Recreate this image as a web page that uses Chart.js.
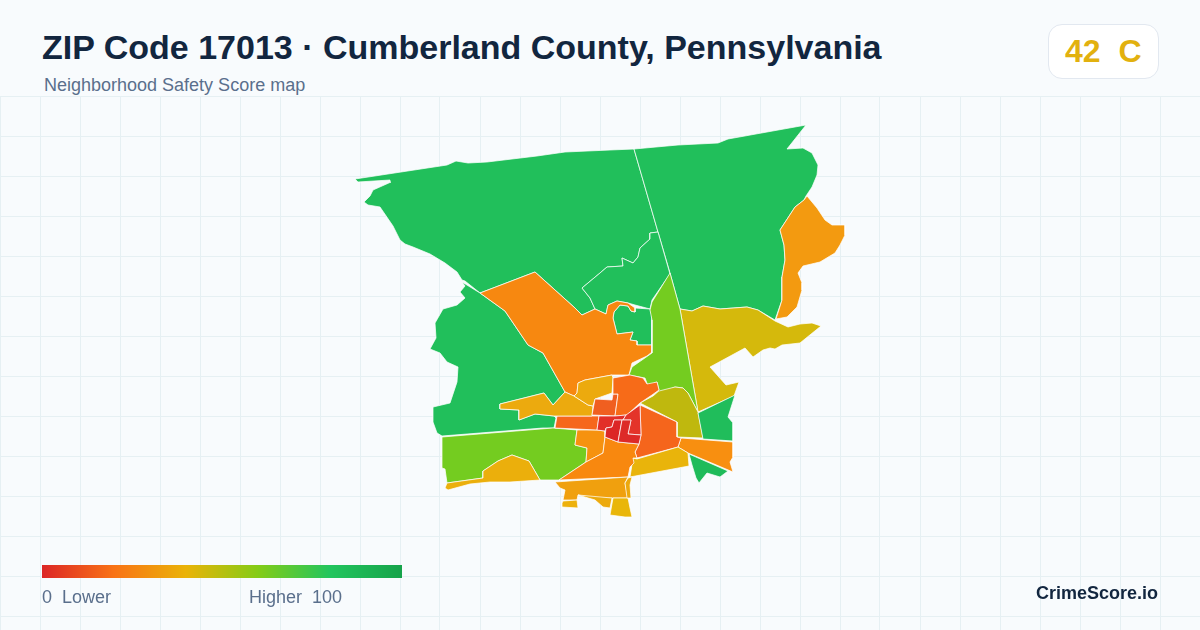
<!DOCTYPE html>
<html><head><meta charset="utf-8">
<script src="https://cdn.jsdelivr.net/npm/chart.js@4"></script>
<style>
html,body{margin:0;padding:0;width:1200px;height:630px;overflow:hidden;background:#f8fbfd;font-family:"Liberation Sans",Arial,sans-serif}
#wrap{position:absolute;left:0;top:96px;width:1200px;height:534px}
.t{position:absolute;white-space:pre;line-height:1}
#title{left:42px;top:30px;font-size:34px;font-weight:700;color:#12263f}
#sub{left:44px;top:76px;font-size:18px;color:#5a6f8c}
#badge{position:absolute;left:1048px;top:24px;width:109px;height:53px;background:#fff;border:1px solid #e2e8f0;border-radius:14px}
#score{left:1065px;top:35px;font-size:32px;font-weight:700;color:#e2b10f}
#bar{position:absolute;left:42px;top:565px;width:360px;height:13px;background:linear-gradient(90deg,#dc2626 0%,#f97316 20%,#eab308 40%,#84cc16 60%,#22c55e 80%,#16a34a 100%)}
#lo{left:42px;top:588px;font-size:18px;color:#5a6f8c}
#hi{left:249px;top:588px;font-size:18px;color:#5a6f8c}
#brand{right:42px;top:584px;font-size:18px;font-weight:700;color:#12263f}
</style></head><body>
<div id="wrap"><canvas id="c" width="1200" height="534"></canvas></div>
<div class="t" id="title">ZIP Code 17013 · Cumberland County, Pennsylvania</div>
<div class="t" id="sub">Neighborhood Safety Score map</div>
<div id="badge"></div><div class="t" id="score">42  C</div>
<div id="bar"></div>
<div class="t" id="lo">0  Lower</div><div class="t" id="hi">Higher  100</div>
<div class="t" id="brand">CrimeScore.io</div>
<script>
const gridX=[0,40,80,120,160,200,240,280,320,360,400,440,480,520,560,600,640,680,720,760,800,840,880,920,960,1000,1040,1080,1120,1160,1200];
const gridY=[96,136,176,216,256,296,336,376,416,456,496,536,576,616];
const northWest=[[355,179],[447,165],[456,161],[468,163],[487,162],[537,156],[565,152],[610,150],[634,149],[658,232],[650,233],[650,239],[640,248],[638,257],[633,263],[622,258],[623,266],[607,267],[600,273],[582,288],[590,298],[595,309],[582,315],[575,308],[535,272],[480,293],[465,281],[462,280],[457,272],[445,263],[430,254],[413,247],[405,244],[400,240],[393,226],[380,207],[368,205],[364,202],[370,196],[373,190],[391,182],[390,180],[358,182]];
const west=[[462,282],[480,293],[505,311],[528,345],[543,353],[565,392],[553,405],[544,393],[500,404],[500,409],[519,410],[519,420],[535,414],[554,416],[556,418],[554,428],[543,428],[442,436],[437,433],[433,422],[433,407],[450,403],[457,382],[458,367],[447,362],[440,353],[430,349],[436,338],[435,323],[443,309],[457,305],[465,298],[460,292],[465,286]];
const northEast=[[634,149],[678,145],[718,143],[728,139],[806,125],[787,149],[803,148],[812,153],[818,165],[817,175],[812,187],[806,196],[804,200],[795,207],[780,230],[784,245],[785,260],[782,277],[782,300],[775,320],[758,310],[747,307],[720,309],[703,306],[692,311],[680,309],[670,273],[658,232]];
const innerNorth=[[658,232],[670,274],[652,300],[650,309],[635,305],[628,303],[617,301],[608,305],[606,314],[595,309],[590,298],[582,288],[600,273],[607,267],[623,266],[622,258],[633,263],[638,257],[640,248],[650,239],[650,233]];
const pocket=[[614,312],[620,305],[628,306],[631,311],[635,312],[635,308],[650,309],[652,316],[652,345],[637,345],[637,341],[630,340],[633,332],[617,334],[613,318]];
const centralOrange=[[480,293],[535,272],[575,308],[582,315],[595,309],[606,314],[608,305],[617,301],[628,303],[635,308],[635,312],[631,311],[628,306],[620,305],[614,312],[613,318],[617,334],[633,332],[630,340],[637,341],[637,345],[652,345],[652,352],[647,356],[632,363],[629,375],[612,375],[585,380],[578,383],[577,393],[574,396],[565,392],[543,353],[528,345],[505,311]];
const eastOrange=[[807,196],[817,208],[825,220],[832,225],[845,225],[845,235],[840,245],[835,253],[820,262],[803,266],[798,273],[802,283],[802,290],[797,307],[787,317],[776,319],[782,300],[782,277],[785,260],[784,245],[780,230],[795,207],[804,200]];
const eastOlive=[[680,309],[692,311],[703,306],[720,309],[747,307],[758,310],[775,321],[788,327],[800,324],[812,323],[821,326],[800,343],[782,345],[775,349],[770,348],[763,350],[753,357],[745,348],[710,367],[726,385],[739,382],[734,396],[698,412]];
const lime=[[670,273],[652,302],[650,310],[652,320],[652,353],[632,367],[629,375],[645,378],[648,386],[657,382],[659,390],[653,396],[675,387],[683,388],[688,393],[698,412],[680,309]];
const oliveMid=[[640,403],[653,396],[659,391],[675,387],[683,388],[688,393],[698,412],[703,438],[677,437],[677,422]];
const southEastGreen=[[698,413],[735,395],[728,417],[733,423],[733,441],[703,439]];
const eastStrip=[[681,438],[733,442],[733,457],[730,462],[733,472],[688,453],[678,447]];
const southGreen=[[689,454],[728,471],[720,477],[707,473],[699,483],[696,478],[692,465]];
const redOrangeEast=[[640,405],[677,422],[677,437],[681,438],[678,447],[637,458],[635,452],[639,444],[641,435]];
const yellowSouthEast=[[678,447],[688,453],[689,466],[630,477],[633,458],[637,459]];
const westBand=[[557,416],[599,416],[597,430],[576,429],[555,428]];
const northBlock=[[595,399],[612,400],[613,394],[618,394],[615,416],[592,415]];
const northCentral=[[613,378],[630,375],[643,378],[647,384],[657,382],[659,390],[652,395],[640,403],[627,415],[615,416],[618,394],[613,394]];
const yellowNorth=[[574,396],[577,393],[578,383],[585,380],[612,375],[613,378],[612,393],[595,399],[593,406],[588,405]];
const yellowWest=[[500,404],[544,393],[553,405],[565,392],[574,396],[588,405],[593,406],[592,416],[554,416],[535,414],[519,420],[519,410],[500,409]];
const redA=[[599,416],[615,416],[626,415],[623,420],[614,420],[612,427],[606,428],[605,431],[597,430]];
const redB=[[606,428],[612,427],[614,420],[622,420],[620,431],[618,442],[605,437]];
const redC=[[626,415],[640,405],[641,435],[628,434],[631,420],[623,420]];
const redD=[[622,420],[631,420],[628,434],[641,435],[639,444],[618,442],[620,431]];
const southMid=[[577,430],[597,430],[605,431],[605,437],[603,453],[586,462],[587,448],[575,445]];
const southOrange=[[603,453],[605,437],[618,442],[639,444],[635,452],[637,458],[633,458],[634,463],[630,467],[628,477],[559,480],[586,462]];
const southWestLime=[[442,437],[553,428],[577,430],[575,445],[587,448],[586,462],[559,480],[540,480],[529,461],[512,455],[498,461],[483,471],[483,478],[447,483],[445,469],[442,468]];
const southWestYellow=[[445,488],[447,483],[483,478],[483,471],[498,461],[512,455],[529,461],[540,480],[510,482],[490,482],[470,484],[448,490]];
const southLobe=[[555,482],[628,477],[625,483],[628,498],[612,498],[595,498],[578,495],[577,500],[563,500],[565,490],[560,488]];
const tipWest=[[562,503],[563,501],[577,500],[578,508],[562,507]];
const tipMid=[[578,495],[612,498],[610,508],[603,507],[595,500]];
const tipEast=[[613,498],[628,498],[630,508],[632,517],[625,517],[610,515]];
const strip=[[628,478],[632,477],[630,485],[631,498],[627,498],[625,483]];

const regions=[northWest,northEast,west,innerNorth,pocket,centralOrange,eastOrange,eastOlive,lime,oliveMid,southEastGreen,eastStrip,southGreen,redOrangeEast,yellowSouthEast,southWestLime,southWestYellow,southMid,southOrange,southLobe,tipWest,tipMid,tipEast,strip,westBand,yellowWest,yellowNorth,northBlock,northCentral,redA,redB,redC,redD];
const regionColors=["#21bf5b","#21bf5b","#21bf5b","#21bf5b","#21bf5b","#f78810","#f39a10","#d5b90c","#74cc20","#bfb80e","#20bd5b","#f88f10","#1fbb5a","#f5651c","#e9b40b","#74cc20","#ebaf0c","#f6920f","#f8880f","#f0a00e","#edb10c","#ecaa0e","#e9b60a","#eca80e","#f6671c","#ecaa0e","#ecaa0e","#f05f20","#f76b18","#e22f28","#dc2626","#e4342a","#dd2a28"];

const datasets=regions.map((r,i)=>({
  data:[...r,r[0]].map(p=>({x:p[0],y:p[1]})),
  showLine:true,fill:'shape',tension:0,pointRadius:0,pointHoverRadius:0,
  backgroundColor:regionColors[i],borderColor:'rgba(255,255,255,0.9)',borderWidth:0.8,borderJoinStyle:'round'
})).reverse();
new Chart(document.getElementById('c'),{
  type:'scatter',
  data:{datasets},
  options:{responsive:false,animation:false,events:[],
    layout:{padding:0},
    plugins:{legend:{display:false},tooltip:{enabled:false},title:{display:false}},
    scales:{
      x:{type:'linear',min:0,max:1200,position:'top',afterBuildTicks:a=>{a.ticks=gridX.map(v=>({value:v}))},ticks:{display:false},border:{display:false},grid:{color:'#e6f0f3',lineWidth:1,drawTicks:false}},
      y:{type:'linear',min:96,max:630,reverse:true,afterBuildTicks:a=>{a.ticks=gridY.map(v=>({value:v}))},ticks:{display:false},border:{display:false},grid:{color:'#e6f0f3',lineWidth:1,drawTicks:false}}
    }
  }
});
</script></body></html>
